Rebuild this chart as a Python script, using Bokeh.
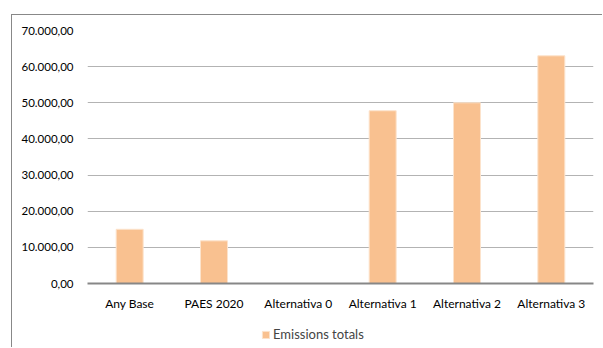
from bokeh.plotting import figure
from bokeh.layouts import column
from bokeh.models import (ColumnDataSource, FactorRange, Range1d, FixedTicker,
                          CustomJSTickFormatter, Legend, LegendItem)
from bokeh.embed import file_html
from bokeh.resources import INLINE

categories = ["Any Base", "PAES 2020", "Alternativa 0", "Alternativa 1", "Alternativa 2", "Alternativa 3"]
emissions = [15000, 11800, 0, 47800, 50000, 63000]
series_name = "Emissions totals"
y_ticks = [0, 10000, 20000, 30000, 40000, 50000, 60000, 70000]

FONT = "Lato"
BAR_FILL = "#F9C190"
BAR_EDGE = "#FCE3CC"

src = ColumnDataSource(dict(cat=categories, val=emissions))

p = figure(width=590, height=303, output_backend="svg", toolbar_location=None,
           x_range=FactorRange(*categories, range_padding=0),
           y_range=Range1d(0, 70000),
           min_border_left=75, min_border_right=9, min_border_top=15, min_border_bottom=35)
p.outline_line_color = None
p.background_fill_color = "white"
p.border_fill_color = "white"

p.vbar(x="cat", top="val", width=0.32, source=src, fill_color=BAR_FILL,
       line_color=BAR_EDGE, line_width=1)

p.xgrid.grid_line_color = None
p.ygrid.grid_line_color = "#B3B3B3"
p.ygrid.grid_line_width = 1
p.yaxis.ticker = FixedTicker(ticks=y_ticks)
p.yaxis.formatter = CustomJSTickFormatter(code="""
const s = tick.toFixed(2).split('.');
const i = s[0].replace(/\\B(?=(\\d{3})+(?!\\d))/g, '.');
return i + ',' + s[1];
""")
p.yaxis.axis_line_color = None
p.yaxis.major_tick_line_color = None
p.yaxis.minor_tick_line_color = None
p.yaxis.major_label_standoff = 8
p.yaxis.major_label_text_font = FONT
p.yaxis.major_label_text_font_size = "11.5px"
p.yaxis.major_label_text_color = "#000000"

p.xaxis.axis_line_color = "#878787"
p.xaxis.axis_line_width = 2
p.xaxis.major_tick_line_color = None
p.xaxis.minor_tick_line_color = None
p.xaxis.major_label_standoff = 6
p.xaxis.major_label_text_font = FONT
p.xaxis.major_label_text_font_size = "12px"
p.xaxis.major_label_text_color = "#000000"

# legend strip below the chart (no axes, frame aligned with the chart's frame)
lg = figure(width=590, height=29, output_backend="svg", toolbar_location=None,
            x_range=FactorRange(*categories), y_range=Range1d(100000, 100001),
            x_axis_location=None, y_axis_location=None,
            min_border_left=0, min_border_right=0, min_border_top=0, min_border_bottom=0)
lg.grid.visible = False
lg.outline_line_color = None
lg.border_fill_color = "white"
lg.background_fill_color = "white"
# same data, drawn far outside the strip's visible y-range; only its legend swatch shows
swatch = lg.vbar(x="cat", top="val", width=0.32, source=src,
                 fill_color=BAR_FILL, line_color=BAR_EDGE)
legend = Legend(items=[LegendItem(label=series_name, renderers=[swatch])],
                orientation="horizontal", location=(174, 5),
                label_text_font=FONT, label_text_font_size="13px",
                glyph_width=9, glyph_height=9, label_standoff=3,
                padding=0, margin=0, spacing=0,
                border_line_color=None, background_fill_alpha=0)
lg.add_layout(legend)

layout = column(p, lg, spacing=0)
layout.styles = {"border-left": "1px solid #888888", "border-top": "1px solid #888888",
                 "margin-left": "11px", "margin-top": "14px"}

open("out.html", "w").write(file_html(layout, INLINE))
